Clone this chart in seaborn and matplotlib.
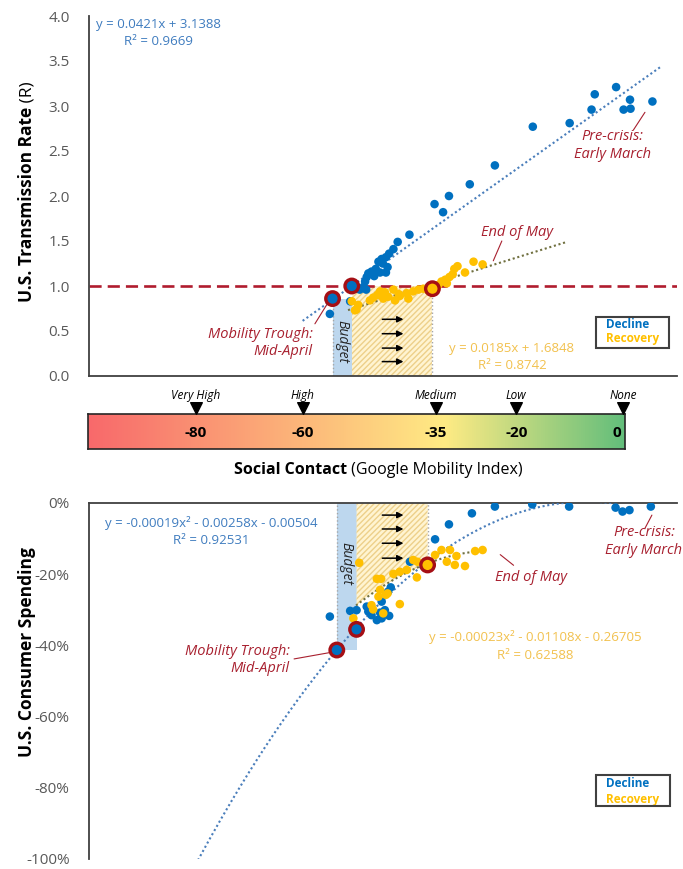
import numpy as np
import pandas as pd
import matplotlib
matplotlib.use("Agg")
import matplotlib.pyplot as plt
import seaborn as sns
from matplotlib.colors import LinearSegmentedColormap
from matplotlib.patches import Rectangle

sns.set_style("white")
plt.rcParams['font.family'] = ['Open Sans', 'DejaVu Sans']

# ---------------- data ----------------
# Top panel: Google mobility index vs U.S. transmission rate R
decline_mob_top = [-40.0, -35.3, -33.7, -32.6, -28.7, -24.0, -16.9, -10.0, -5.9, -5.3, -1.3, 0.1, 1.4, 1.3, 5.5,
                   -42.2, -43.0, -43.8, -44.4, -45.2, -45.8, -45.0, -44.1, -46.3, -47.1, -47.7, -48.0, -46.6,
                   -45.5, -44.4, -48.3, -48.6, -48.1, -49.3, -50.2, -51.1, -54.9]
decline_r = [1.57, 1.91, 1.82, 2.00, 2.13, 2.34, 2.77, 2.81, 2.96, 3.13, 3.21, 2.96, 2.97, 3.07, 3.05,
             1.49, 1.41, 1.36, 1.32, 1.30, 1.27, 1.25, 1.21, 1.19, 1.16, 1.14, 1.10, 1.11,
             1.15, 1.15, 1.05, 0.99, 0.96, 0.96, 0.97, 0.83, 0.69]
recovery_mob_top = [-50.2, -50.8, -49.6, -47.4, -46.8, -45.5, -44.6, -44.0, -42.7, -41.8, -40.5, -39.3, -38.3,
                    -37.4, -43.0, -44.9, -40.2, -34.6, -34.0, -33.3, -32.5, -31.9, -31.6, -31.0, -29.6, -28.0,
                    -26.3, -33.0, -49.9, -36.5, -42.0, -46.0]
recovery_r = [0.73, 0.83, 0.79, 0.84, 0.87, 0.94, 0.93, 0.88, 0.84, 0.89, 0.92, 0.94, 0.96,
              0.97, 0.96, 0.86, 0.86, 1.01, 1.05, 1.07, 1.10, 1.13, 1.19, 1.22, 1.15, 1.27,
              1.24, 1.03, 0.74, 0.95, 0.91, 0.90]
# highlighted milestones (trough, recovery start, end of May)
key_mob_top = [-54.4, -50.8, -35.7]
key_r = [0.86, 1.00, 0.97]
key_series = ["Decline", "Decline", "Recovery"]

# Bottom panel: Google mobility index vs U.S. consumer spending (%)
decline_mob_bot = [-28.3, -24.0, -17.0, -10.1, -1.4, -0.1, 1.2, 5.2, -32.6, -35.2, -39.9, -43.5, -44.0,
                   -45.2, -44.6, -43.8, -45.5, -46.1, -47.1, -48.0, -47.7, -49.9, -51.1, -54.9, -45.2]
decline_spend = [-2.9, -1.0, -0.4, -1.0, -1.3, -2.4, -2.0, -1.0, -6.0, -10.2, -16.5, -23.7, -24.9,
                 -27.7, -30.1, -31.7, -30.8, -32.9, -31.5, -29.1, -30.5, -30.1, -30.3, -31.9, -32.4]
recovery_mob_bot = [-49.4, -46.1, -45.3, -45.5, -44.4, -41.8, -43.0, -41.8, -40.5, -38.6, -39.3, -38.5,
                    -35.2, -34.0, -32.4, -33.0, -31.5, -29.6, -31.2, -27.7, -26.3, -46.8, -47.1, -50.5,
                    -44.9, -44.1, -45.8]
recovery_spend = [-16.8, -21.3, -21.3, -24.4, -25.8, -28.4, -19.9, -19.3, -18.8, -20.9, -16.0, -16.5,
                  -14.6, -13.2, -13.2, -16.5, -17.4, -17.7, -14.9, -13.5, -13.2, -29.9, -28.7, -32.4,
                  -31.0, -25.4, -26.3]
key_mob_bot = [-53.6, -49.9, -36.6]
key_spend = [-41.3, -35.5, -17.4]

# trendline coefficients (as printed on the chart)
top_decline_fit = (0.0421, 3.1388)
top_recovery_fit = (0.0185, 1.6848)
bot_decline_fit = (-0.00019, -0.00258, -0.00504)
bot_recovery_fit = (-0.00023, -0.01108, -0.26705)

# color scale for social contact
scale_values = [-80, -60, -35, -20, 0]
scale_labels = ["Very High", "High", "Medium", "Low", "None"]

# ---------------- style ----------------
BLUE = "#0070C0"
GOLD = "#FFC000"
RED = "#A8202F"
RING = "#A50F15"
BLUE_TXT = "#3F7CBF"
GOLD_TXT = "#F2C14E"
GRID = "#404040"
TICK = "#595959"

fig = plt.figure(figsize=(6.83, 8.69), dpi=100)
W, H = 683.0, 869.0
ax1 = fig.add_axes([89 / W, 1 - 376 / H, 588 / W, 360 / H])
ax2 = fig.add_axes([89 / W, 1 - 859 / H, 588 / W, 356 / H])
XL = (-100, 10.1)


def ringed(ax, xs, ys, series):
    df = pd.DataFrame({"x": xs, "y": ys, "s": series})
    sns.scatterplot(data=df, x="x", y="y", hue="s", palette={"Decline": BLUE, "Recovery": GOLD},
                    s=95, edgecolor=RING, linewidth=2.4, legend=False, ax=ax, zorder=6)


def arrows(ax, levels):
    for yv in levels:
        ax.annotate("", xy=(-40.6, yv), xytext=(-45.6, yv),
                    arrowprops=dict(arrowstyle="-|>", color="black", lw=1.1, mutation_scale=9), zorder=5)


# ================= TOP PANEL =================
ax1.set_xlim(*XL)
ax1.set_ylim(0, 4)
ax1.fill_between([key_mob_top[0], key_mob_top[1]], 0, key_r[0], color="#BDD7EE", lw=0, zorder=1)
ax1.fill_between([key_mob_top[1], key_mob_top[2]], 0, 1.0, facecolor="#FFF4D1", edgecolor="#EDD08A",
                 hatch="//////", lw=0, zorder=1)
ax1.plot([key_mob_top[0]] * 2, [0, key_r[0]], color="#A6A6A6", ls=":", lw=1, zorder=1)
ax1.plot([key_mob_top[2]] * 2, [0, 1.0], color="#A6A6A6", ls=":", lw=1, zorder=1)
arrows(ax1, [0.63, 0.47, 0.31, 0.16])
ax1.text(-52.6, 0.38, "Budget", rotation=-90, ha="center", va="center", style="italic", fontsize=10,
         color="#262626", zorder=4)

ax1.axhline(1.0, color="#B01C2E", lw=1.9, dashes=(4.6, 2.3), zorder=2)

xt = np.linspace(-60, 7.2, 100)
sns.lineplot(x=xt, y=top_decline_fit[0] * xt + top_decline_fit[1], ax=ax1, color="#4A7EBB",
             lw=1.5, dashes=(1, 1.3), zorder=3)
xr = np.linspace(-51.5, -10.7, 100)
sns.lineplot(x=xr, y=top_recovery_fit[0] * xr + top_recovery_fit[1], ax=ax1, color="#707040",
             lw=1.5, dashes=(1, 1.3), zorder=3)

top_df = pd.DataFrame({
    "mob": decline_mob_top + recovery_mob_top,
    "R": decline_r + recovery_r,
    "phase": ["Decline"] * len(decline_mob_top) + ["Recovery"] * len(recovery_mob_top)})
sns.scatterplot(data=top_df, x="mob", y="R", hue="phase", palette={"Decline": BLUE, "Recovery": GOLD},
                s=38, edgecolor="none", legend=False, ax=ax1, zorder=4)
ringed(ax1, key_mob_top, key_r, key_series)

ax1.text(-87.0, 3.81, "y = 0.0421x + 3.1388\nR² = 0.9669", ha="center", va="center", color=BLUE_TXT,
         fontsize=9.5, linespacing=1.45)
ax1.text(-20.8, 0.21, "y = 0.0185x + 1.6848\nR² = 0.8742", ha="center", va="center", color=GOLD_TXT,
         fontsize=9.5, linespacing=1.45)

ax1.text(-2.0, 2.56, "Pre-crisis:\nEarly March", ha="center", va="center", color=RED, style="italic",
         fontsize=10.5, linespacing=1.25)
ax1.plot([4.1, 1.9], [2.93, 2.73], color=RED, lw=0.8)
ax1.text(-19.9, 1.59, "End of May", ha="center", va="center", color=RED, style="italic", fontsize=10.5)
ax1.plot([-22.7, -24.3], [1.50, 1.28], color=RED, lw=0.8)
ax1.text(-58.1, 0.37, "Mobility Trough:\nMid-April", ha="right", va="center", multialignment="right",
         color=RED, style="italic", fontsize=10.5, linespacing=1.2)
ax1.plot([-57.7, -55.4], [0.58, 0.80], color=RED, lw=0.8)

ax1.add_patch(Rectangle((0.862, 0.078), 0.124, 0.086, transform=ax1.transAxes, fill=False,
                        edgecolor=GRID, lw=1.5, zorder=5))
ax1.text(0.879, 0.142, "Decline", transform=ax1.transAxes, color=BLUE, fontsize=8.5, fontweight="bold",
         va="center", ha="left")
ax1.text(0.879, 0.103, "Recovery", transform=ax1.transAxes, color=GOLD, fontsize=8.5, fontweight="bold",
         va="center", ha="left")

ax1.set_yticks(np.arange(0, 4.01, 0.5))
ax1.set_yticklabels([f"{v:.1f}" for v in np.arange(0, 4.01, 0.5)])
ax1.set_xticks([])
ax1.tick_params(axis="y", length=0, pad=14, labelsize=11, labelcolor=TICK)
ax1.set_xlabel("")
ax1.set_ylabel("")
for s in ["top", "right"]:
    ax1.spines[s].set_visible(False)
for s in ["left", "bottom"]:
    ax1.spines[s].set_color(GRID)
    ax1.spines[s].set_linewidth(1.3)

fig.text(27 / W, 1 - 107 / H, "U.S. Transmission Rate", rotation=90, rotation_mode="anchor",
         ha="right", va="center", fontsize=12.5, fontweight="bold", color="black")
fig.text(27 / W, 1 - 107 / H, " (R)", rotation=90, rotation_mode="anchor",
         ha="left", va="center", fontsize=12.5, color="black")

# ================= COLOR SCALE =================
cax = fig.add_axes([88 / W, 1 - 449 / H, 537 / W, 35 / H])
cmap = LinearSegmentedColormap.from_list("rag", [(0, "#F8696B"), (0.665, "#FFEB84"), (1, "#63BE7B")])
grad = np.linspace(0, 1, 512)[None, :]
cx0, cx1 = -100.19, 0.37
cax.imshow(grad, cmap=cmap, aspect="auto", extent=[cx0, cx1, 0, 1])
cax.set_xlim(cx0, cx1)
cax.set_ylim(0, 1)
cax.set_xticks([])
cax.set_yticks([])
for s in cax.spines.values():
    s.set_color("#262626")
    s.set_linewidth(1.2)
for v, lab in zip(scale_values, scale_labels):
    ha = "right" if v == 0 else "center"
    cax.text(v - (0.4 if v == 0 else 0), 0.46, f"{v}", ha=ha, va="center", fontsize=11,
             fontweight="bold", color="black")
    cax.text(v, 1.52, lab, ha="center", va="center", fontsize=8.5, style="italic", color="black")
cax.scatter(scale_values, [1.17] * len(scale_values), marker="v", s=70, color="black", clip_on=False,
            zorder=5)
fig.text(347 / W, 1 - 470 / H, "Social Contact", ha="right", va="center", fontsize=11.5,
         fontweight="bold", color="black")
fig.text(347 / W, 1 - 470 / H, " (Google Mobility Index)", ha="left", va="center", fontsize=11.5,
         color="black")

# ================= BOTTOM PANEL =================
ax2.set_xlim(*XL)
ax2.set_ylim(-100, 0)
ax2.fill_between([key_mob_bot[0], key_mob_bot[1]], key_spend[0], 0, color="#BDD7EE", lw=0, zorder=1)
xb = np.linspace(key_mob_bot[1], key_mob_bot[2], 50)
a, b, c = bot_recovery_fit
ax2.fill_between(xb, 100 * (a * xb ** 2 + b * xb + c), 0, facecolor="#FFF4D1", edgecolor="#EDD08A",
                 hatch="//////", lw=0, zorder=1)
ax2.plot([key_mob_bot[0]] * 2, [key_spend[0], 0], color="#A6A6A6", ls=":", lw=1, zorder=1)
ax2.plot([key_mob_bot[2]] * 2, [key_spend[2], 0], color="#A6A6A6", ls=":", lw=1, zorder=1)
arrows(ax2, [-3.4, -7.3, -11.3, -15.5])
ax2.text(-51.8, -17.0, "Budget", rotation=-90, ha="center", va="center", style="italic", fontsize=10,
         color="#262626", zorder=4)

a1, b1, c1 = bot_decline_fit
xd = np.linspace(-79.6, -2.0, 150)
sns.lineplot(x=xd, y=100 * (a1 * xd ** 2 + b1 * xd + c1), ax=ax2, color="#4A7EBB", lw=1.5,
             dashes=(1, 1.3), zorder=3)
xy_ = np.linspace(-50, -26, 80)
sns.lineplot(x=xy_, y=100 * (a * xy_ ** 2 + b * xy_ + c), ax=ax2, color="#707040", lw=1.5,
             dashes=(1, 1.3), zorder=3)

bot_df = pd.DataFrame({
    "mob": decline_mob_bot + recovery_mob_bot,
    "spend": decline_spend + recovery_spend,
    "phase": ["Decline"] * len(decline_mob_bot) + ["Recovery"] * len(recovery_mob_bot)})
sns.scatterplot(data=bot_df, x="mob", y="spend", hue="phase", palette={"Decline": BLUE, "Recovery": GOLD},
                s=38, edgecolor="none", legend=False, ax=ax2, zorder=4)
ringed(ax2, key_mob_bot, key_spend, key_series)

ax2.text(-77.2, -8.0, "y = -0.00019x² - 0.00258x - 0.00504\nR² = 0.92531", ha="center", va="center",
         color=BLUE_TXT, fontsize=9.5, linespacing=1.45)
ax2.text(-16.5, -40.2, "y = -0.00023x² - 0.01108x - 0.26705\nR² = 0.62588", ha="center", va="center",
         color=GOLD_TXT, fontsize=9.5, linespacing=1.45)

ax2.text(3.9, -10.8, "Pre-crisis:\nEarly March", ha="center", va="center", color=RED, style="italic",
         fontsize=10.5, linespacing=1.2)
ax2.plot([5.4, 4.1], [-3.4, -7.1], color=RED, lw=0.8)
ax2.text(-17.2, -20.8, "End of May", ha="center", va="center", color=RED, style="italic", fontsize=10.5)
ax2.plot([-23.0, -20.5], [-14.5, -17.5], color=RED, lw=0.8)
ax2.text(-62.4, -44.0, "Mobility Trough:\nMid-April", ha="right", va="center", multialignment="right",
         color=RED, style="italic", fontsize=10.5, linespacing=1.2)
ax2.plot([-61.6, -54.1], [-43.8, -41.8], color=RED, lw=0.8)

ax2.add_patch(Rectangle((0.862, 0.149), 0.126, 0.087, transform=ax2.transAxes, fill=False,
                        edgecolor=GRID, lw=1.5, zorder=5))
ax2.text(0.879, 0.211, "Decline", transform=ax2.transAxes, color=BLUE, fontsize=8.5, fontweight="bold",
         va="center", ha="left")
ax2.text(0.879, 0.166, "Recovery", transform=ax2.transAxes, color=GOLD, fontsize=8.5, fontweight="bold",
         va="center", ha="left")

yt = np.arange(-100, 1, 20)
ax2.set_yticks(yt)
ax2.set_yticklabels([f"{v}%" for v in yt])
ax2.set_xticks([])
ax2.tick_params(axis="y", length=0, pad=14, labelsize=11, labelcolor=TICK)
ax2.set_xlabel("")
ax2.set_ylabel("")
for s in ["bottom", "right"]:
    ax2.spines[s].set_visible(False)
for s in ["left", "top"]:
    ax2.spines[s].set_color(GRID)
    ax2.spines[s].set_linewidth(1.3)

fig.text(27 / W, 1 - 652 / H, "U.S. Consumer Spending", rotation=90, ha="center", va="center",
         fontsize=12.5, fontweight="bold", color="black")

fig.savefig("out.png", dpi=100)
